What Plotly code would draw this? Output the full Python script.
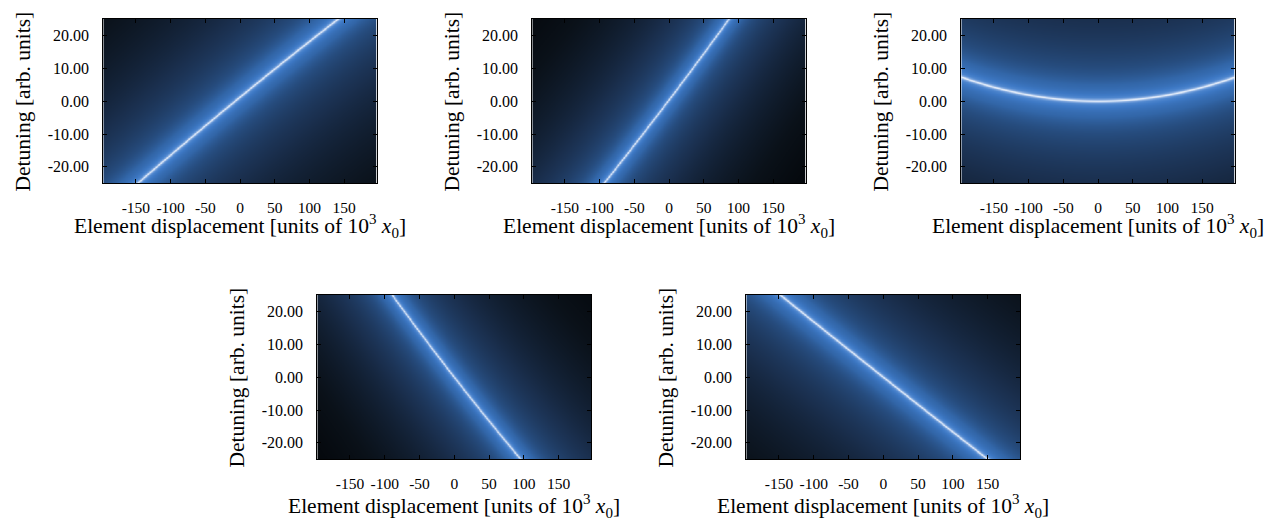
import numpy as np
import plotly.graph_objects as go

# ---- axis ticks ----
x_tick_vals = [-150, -100, -50, 0, 50, 100, 150]
x_tick_text = ["-150", "-100", "-50", "0", "50", "100", "150"]
y_tick_vals = [-20, -10, 0, 10, 20]
y_tick_text = ["-20.00", "-10.00", "0.00", "10.00", "20.00"]
x_range = [-197, 197]
y_range = [-25, 25]

# ---- resonance curves (displacement, detuning) ----
p1_x = [-148, -122, -62, -7, 48, 110, 142]
p1_r = [-25, -20, -10, 0, 10, 20, 25]
p2_x = [-94, -38, -2, 34, 86]
p2_r = [-25, -10, 0, 10, 25]
p3_x = [-197, -150, -100, -50, 0, 50, 100, 150, 197]
p3_r = [7.3, 4.3, 1.9, 0.5, 0.0, 0.5, 1.9, 4.3, 7.3]
p4_x = [-89, -38, 0, 38, 95]
p4_r = [25, 10, 0, -10, -25]
p5_x = [-148, -75, 0, 75, 150]
p5_r = [25, 12.5, 0, -12.5, -25]

panels = [(p1_x, p1_r), (p2_x, p2_r), (p3_x, p3_r), (p4_x, p4_r), (p5_x, p5_r)]

# ---- plot-area placement (page pixels; page body has an 8px margin) ----
OFF = 8
W, H = 1275 - OFF, 521 - OFF
boxes_px = [
    (103.3, 376.7, 19.0, 183.3),
    (532.3, 805.7, 19.0, 183.3),
    (961.3, 1234.7, 19.0, 183.3),
    (317.3, 591.3, 295.0, 459.3),
    (746.3, 1020.3, 295.0, 459.3),
]
title_gap = [43, 43, 43, 47, 47]

gamma = 0.15
xg = np.linspace(x_range[0], x_range[1], 420)
yg = np.linspace(y_range[0], y_range[1], 400)
X, Y = np.meshgrid(xg, yg)

colorscale = [
    [0.000, "#04070b"],
    [0.055, "#0a1119"],
    [0.193, "#1a2f4e"],
    [0.338, "#264c7e"],
    [0.447, "#3266a8"],
    [0.591, "#3d78c4"],
    [0.699, "#4f87cf"],
    [0.803, "#7ea6dd"],
    [0.895, "#b5cdee"],
    [1.000, "#e2ebf8"],
]
zmin = -np.log10(85.0 ** 2)
zmax = -np.log10(gamma ** 2)

fig = go.Figure()
layout = dict(
    width=W, height=H, margin=dict(l=0, r=0, t=0, b=0),
    paper_bgcolor="white", plot_bgcolor="white", showlegend=False,
    font=dict(family="Liberation Serif", size=15.5, color="black"),
)
annotations = []
for i, ((px, pr), (x0, x1, y0, y1), tg) in enumerate(zip(panels, boxes_px, title_gap), start=1):
    x0, x1, y0, y1 = x0 - OFF, x1 - OFF, y0 - OFF, y1 - OFF
    coef = np.polyfit(px, pr, 2)
    R = np.polyval(coef, X)
    Z = (-np.log10((Y - R) ** 2 + gamma ** 2)).astype(np.float32)
    fig.add_trace(go.Heatmap(
        x=xg, y=yg, z=Z, colorscale=colorscale, zmin=zmin, zmax=zmax,
        showscale=False, zsmooth="best", hoverinfo="skip",
        xaxis="x" if i == 1 else f"x{i}", yaxis="y" if i == 1 else f"y{i}",
    ))
    xd = [x0 / W, x1 / W]
    yd = [1 - y1 / H, 1 - y0 / H]
    xa = "xaxis" if i == 1 else f"xaxis{i}"
    ya = "yaxis" if i == 1 else f"yaxis{i}"
    layout[xa] = dict(
        domain=xd, anchor="y" if i == 1 else f"y{i}", range=x_range,
        tickvals=x_tick_vals, ticktext=x_tick_text, ticks="inside", ticklen=4,
        tickcolor="black", showline=True, linecolor="black", linewidth=1,
        mirror="ticks", showgrid=False, zeroline=False, ticklabelstandoff=10,
        tickfont=dict(size=15.5),
    )
    layout[ya] = dict(
        domain=yd, anchor="x" if i == 1 else f"x{i}", range=y_range,
        tickvals=y_tick_vals, ticktext=y_tick_text, ticks="inside", ticklen=4,
        tickcolor="black", showline=True, linecolor="black", linewidth=1,
        mirror="ticks", showgrid=False, zeroline=False, ticklabelstandoff=10,
        tickfont=dict(size=16),
    )
    cx = (x0 + x1) / 2 / W
    annotations.append(dict(
        text="Element displacement [units of 10<sup>3</sup> <i>x</i><sub>0</sub>]",
        x=cx, y=1 - (y1 + tg) / H, xref="paper", yref="paper",
        xanchor="center", yanchor="middle", showarrow=False, font=dict(size=21.5),
    ))
    annotations.append(dict(
        text="Detuning [arb. units]", textangle=-90,
        x=(x0 - 80) / W, y=1 - (y0 + y1) / 2 / H, xref="paper", yref="paper",
        xanchor="center", yanchor="middle", showarrow=False, font=dict(size=21.5),
    ))
layout["annotations"] = annotations
fig.update_layout(**layout)
fig.write_html("out.html")
